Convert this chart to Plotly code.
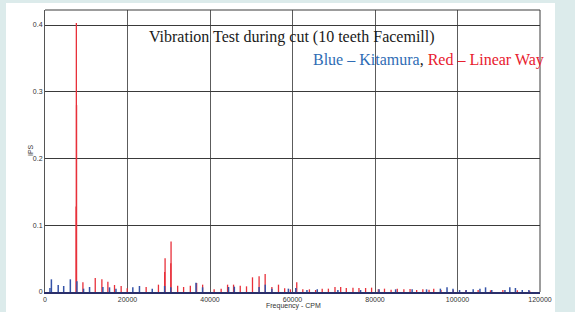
import plotly.graph_objects as go

# ---- data ----
red_freq = [7550, 7600, 7650, 9190, 12180, 13790, 15240, 16850, 18460, 19920,
            24520, 27500, 29000, 29110, 30500, 30560, 32160, 33600, 35230, 36760,
            38210, 41000, 42700, 44260, 45710, 47330, 48850, 50300, 51900, 53370,
            55000, 56600, 58100, 59500, 61030, 62500, 64100, 65600, 67200, 68700,
            70300, 71680, 73040, 74660, 76110, 77720, 79170, 80800, 82300, 83900,
            85400, 87000, 88500, 90100, 91600, 93100, 94240, 96000, 99000, 102000,
            105000, 108000, 111000, 114500, 117500]
red_ips = [0.128, 0.403, 0.28, 0.0145, 0.021, 0.019, 0.0155, 0.0105, 0.009, 0.0055,
           0.0075, 0.011, 0.03, 0.0505, 0.043, 0.0755, 0.0095, 0.0075, 0.0095, 0.0135,
           0.011, 0.004, 0.005, 0.011, 0.011, 0.0095, 0.0085, 0.022, 0.0235, 0.027,
           0.0075, 0.011, 0.0055, 0.004, 0.0145, 0.004, 0.004, 0.003, 0.005, 0.005,
           0.0075, 0.0075, 0.006, 0.0065, 0.006, 0.006, 0.0065, 0.004, 0.005, 0.0035,
           0.005, 0.004, 0.0045, 0.003, 0.004, 0.0035, 0.005, 0.003, 0.003, 0.0025,
           0.003, 0.0025, 0.003, 0.0025, 0.002]

blue_freq = [1200, 1550, 3200, 4530, 6140, 7740, 9350, 10800, 14030, 15640,
             17200, 21290, 22900, 26000, 29000, 30500, 36600, 38200, 44500, 45900,
             51900, 53400, 55000, 59000, 60800, 63500, 66000, 71000, 76500, 81000,
             85000, 89000, 92500, 95850, 97460, 98910, 100500, 102100, 103800, 105440,
             106800, 108300, 111500, 112680, 114040, 115700, 117300]
blue_ips = [0.006, 0.019, 0.0105, 0.009, 0.019, 0.016, 0.005, 0.0075, 0.0075, 0.007,
            0.005, 0.007, 0.009, 0.005, 0.009, 0.007, 0.014, 0.007, 0.0075, 0.008,
            0.0075, 0.011, 0.005, 0.005, 0.006, 0.003, 0.004, 0.003, 0.003, 0.004,
            0.004, 0.004, 0.004, 0.005, 0.007, 0.005, 0.003, 0.003, 0.004, 0.005,
            0.007, 0.003, 0.003, 0.007, 0.006, 0.003, 0.003]

x_ticks = [0, 20000, 40000, 60000, 80000, 100000, 120000]
x_labels = ["0", "20000", "40000", "60000", "80000", "100000", "120000"]
y_ticks = [0, 0.1, 0.2, 0.3, 0.4]
y_labels = ["0", "0.1", "0.2", "0.3", "0.4"]

title_text = "Vibration Test during cut (10 teeth Facemill)"
legend_blue = "Blue \u2013 Kitamura"
legend_red = "Red \u2013 Linear Way"


def stems(freqs, vals):
    xs, ys = [], []
    for f, v in zip(freqs, vals):
        xs += [f, f, None]
        ys += [0, v, None]
    return xs, ys


W, H = 575, 312
L, R, T, B = 45, 35, 10, 20
pw, ph = W - L - R, H - T - B


def px(x):
    return (x - L) / pw


def py(y):
    return (H - B - y) / ph


fig = go.Figure()
rx, ry = stems(red_freq, red_ips)
bx, by = stems(blue_freq, blue_ips)
fig.add_trace(go.Scatter(x=rx, y=ry, mode="lines", line=dict(color="#e8303a", width=1.3),
                         hoverinfo="skip", showlegend=False))
fig.add_trace(go.Scatter(x=bx, y=by, mode="lines", line=dict(color="#3553a8", width=1.5),
                         hoverinfo="skip", showlegend=False))

# white card behind the chart
fig.add_shape(type="rect", xref="paper", yref="paper",
              x0=px(6), x1=px(555), y0=py(330), y1=py(3),
              fillcolor="white", line=dict(width=0), layer="below")

fig.add_annotation(text=title_text, xref="paper", yref="paper", x=px(292), y=py(37),
                   xanchor="center", yanchor="middle", showarrow=False,
                   font=dict(family="Liberation Serif", size=16, color="#1a1a1a"))
fig.add_annotation(text=f"<span style='color:#2f6db5'>{legend_blue}</span>, "
                        f"<span style='color:#e8202e'>{legend_red}</span>",
                   xref="paper", yref="paper", x=px(546), y=py(60),
                   xanchor="right", yanchor="middle", showarrow=False,
                   font=dict(family="Liberation Serif", size=16, color="#1a1a1a"))
fig.add_annotation(text="IPS", xref="paper", yref="paper", x=px(30), y=py(150),
                   textangle=-90, showarrow=False, xanchor="center", yanchor="middle",
                   font=dict(family="Liberation Sans", size=7, color="#333"))
fig.add_annotation(text="Frequency - CPM", xref="paper", yref="paper", x=px(293), y=py(306),
                   showarrow=False, xanchor="center", yanchor="middle",
                   font=dict(family="Liberation Sans", size=7, color="#333"))

fig.update_layout(
    width=W, height=H,
    margin=dict(l=L, r=R, t=T, b=B, pad=0),
    paper_bgcolor="#dcebeb",
    plot_bgcolor="#c9cbc8",
    showlegend=False,
    xaxis=dict(range=[0, 120000], tickvals=x_ticks, ticktext=x_labels,
               showgrid=True, gridcolor="#5c5c5c", gridwidth=1,
               showline=True, linecolor="#2a2f6a", linewidth=2, mirror=False,
               zeroline=False, ticks="", ticklabelstandoff=0,
               tickfont=dict(family="Liberation Sans", size=7, color="#333")),
    yaxis=dict(range=[0, 0.4225], tickvals=y_ticks, ticktext=y_labels,
               showgrid=True, gridcolor="#3a3a3a", gridwidth=1,
               showline=True, linecolor="#555", linewidth=1, mirror=False,
               zeroline=False, ticks="",
               tickfont=dict(family="Liberation Sans", size=7, color="#333")),
)
# top and right frame lines
fig.add_shape(type="line", xref="paper", yref="paper", x0=0, x1=1, y0=1, y1=1,
              line=dict(color="#3a3a3a", width=1))
fig.add_shape(type="line", xref="paper", yref="paper", x0=1, x1=1, y0=0, y1=1,
              line=dict(color="#3a3a3a", width=1))

fig.write_html("out.html")
